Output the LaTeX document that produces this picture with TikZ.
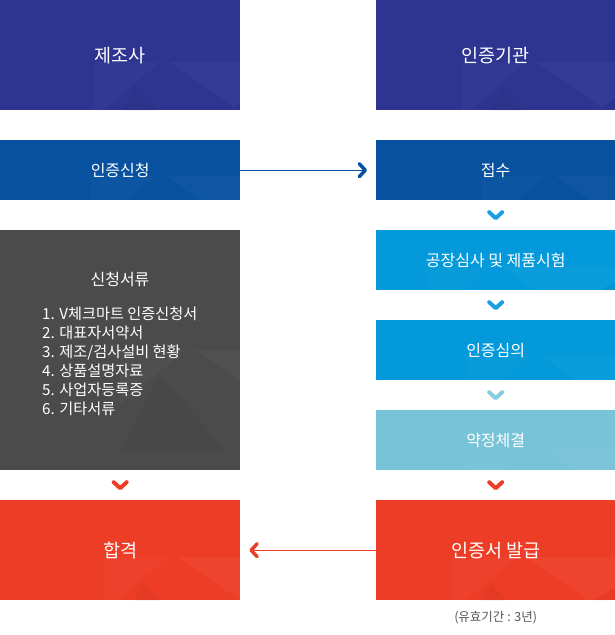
\documentclass[tikz,border=0pt]{standalone}
\usepackage{fontspec}
\setmainfont{Noto Sans CJK KR}
\usetikzlibrary{arrows.meta,calc}
\definecolor{cnavy}{HTML}{2E3591}
\definecolor{cblue}{HTML}{07519E}
\definecolor{csky}{HTML}{0399DA}
\definecolor{clight}{HTML}{77C3D8}
\definecolor{cgray}{HTML}{4B4B4B}
\definecolor{cred}{HTML}{EE3D26}
\definecolor{cchevblue}{HTML}{1AA0E0}
\definecolor{cchevlight}{HTML}{86CCE2}
\definecolor{cnote}{HTML}{555555}
\newcommand\facetdraw[1]{%
  \begin{scope}[shift={(path picture bounding box.north west)},yscale={#1/100}]
    \fill[black,opacity=.035] (0,100) -- (40,25) -- (105,100) -- cycle;
    \fill[white,opacity=.03] (75,0) -- (140,45) -- (215,0) -- cycle;
    \fill[black,opacity=.03] (150,100) -- (240,35) -- (240,100) -- cycle;
    \fill[white,opacity=.025] (0,0) -- (65,0) -- (0,55) -- cycle;
    \fill[black,opacity=.025] (140,45) -- (240,35) -- (215,0) -- cycle;
  \end{scope}}
\newcommand\chevdown[2]{%
  \draw[chev,#2] ($#1+(-6.5,-3)$) -- ($#1+(0,3)$) -- ($#1+(6.5,-3)$);}
\tikzset{
  box/.style={rectangle, inner sep=0pt, text=white, anchor=north west,
    minimum width=#1},
  box/.default=240pt,
  chev/.style={line width=4pt, line cap=round, line join=round},
  big/.style={font=\fontsize{18.5}{22}\selectfont},
  small/.style={font=\fontsize{16}{20}\selectfont},
  tipright/.style={-{Straight Barb[length=6pt,width=13pt,line width=3.5pt,round]}},
}
\begin{document}
\begin{tikzpicture}[x=1pt,y=-1pt]
\useasboundingbox (0,0) rectangle (615,635);
% boxes
\node[box, big, fill=cnavy, minimum height=110pt, path picture={\facetdraw{110}}] (b1) at (0,0) {제조사};
\node[box=239pt, big, fill=cnavy, minimum height=110pt, path picture={\facetdraw{110}}] (b2) at (376,0) {인증기관};
\node[box, small, fill=cblue, minimum height=60pt, path picture={\facetdraw{60}}] (b3) at (0,140) {인증신청};
\node[box=239pt, small, fill=cblue, minimum height=60pt, path picture={\facetdraw{60}}] (b4) at (376,140) {접수};
\node[box, fill=cgray, minimum height=240pt, path picture={\facetdraw{240}}] (b5) at (0,230) {};
\node[box=239pt, small, fill=csky, minimum height=60pt, path picture={\facetdraw{60}}] (b6) at (376,230) {공장심사 및 제품시험};
\node[box=239pt, small, fill=csky, minimum height=60pt, path picture={\facetdraw{60}}] (b7) at (376,320) {인증심의};
\node[box=239pt, small, fill=clight, minimum height=60pt, path picture={\facetdraw{60}}] (b8) at (376,410) {약정체결};
\node[box, big, fill=cred, minimum height=100pt, path picture={\facetdraw{100}}] (b9) at (0,500) {합격};
\node[box=239pt, big, fill=cred, minimum height=100pt, path picture={\facetdraw{100}}] (b10) at (376,500) {인증서 발급};
% documents list
\node[text=white, font=\fontsize{16}{20}\selectfont] (t5) at (120,279) {신청서류};
\node[text=white, anchor=north west, inner sep=0pt, align=left,
  font=\fontsize{15.2}{19}\selectfont] (l5) at (42,307)
  {1. V체크마트 인증신청서\\2. 대표자서약서\\3. 제조/검사설비 현황\\4. 상품설명자료\\5. 사업자등록증\\6. 기타서류};
% note
\node[text=cnote, font=\fontsize{12.5}{15}\selectfont] (note) at ([yshift=-17pt]b10.south) {(유효기간 : 3년)};
% connectors
\draw[draw=cblue, line width=1.3pt, tipright] (b3.east) -- ([xshift=-9pt]b4.west);
\draw[draw=cred, line width=1.3pt, tipright] (b10.west) -- ([xshift=9pt]b9.east);
% chevrons
\chevdown{($(b4.south)!0.5!(b6.north)$)}{cchevblue}
\chevdown{($(b6.south)!0.5!(b7.north)$)}{cchevblue}
\chevdown{($(b7.south)!0.5!(b8.north)$)}{cchevlight}
\chevdown{($(b8.south)!0.5!(b10.north)$)}{cred}
\chevdown{($(b5.south)!0.5!(b9.north)$)}{cred}
\end{tikzpicture}
\end{document}
